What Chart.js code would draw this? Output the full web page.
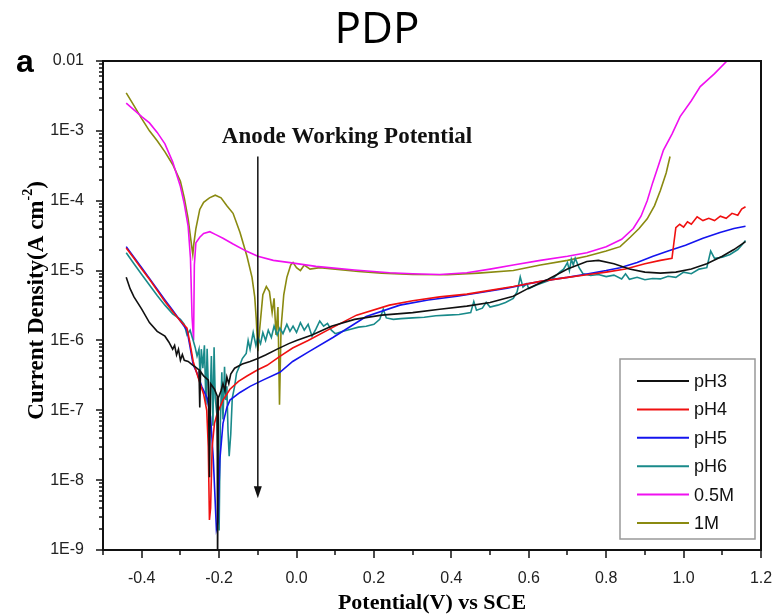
<!DOCTYPE html>
<html>
<head>
<meta charset="utf-8">
<title>PDP</title>
<script src="https://cdn.jsdelivr.net/npm/chart.js@4.4.1/dist/chart.umd.min.js"></script>
<style>
  body { margin: 0; background: #fff; }
  #pdpChart { display: block; }
</style>
</head>
<body>
<canvas id="pdpChart" width="775" height="615"></canvas>
<script>
// Series names & line colours (same order as the legend)
const seriesNames = ['pH3', 'pH4', 'pH5', 'pH6', '0.5M', '1M'];
const seriesColors = ['#111111', '#f01010', '#1414ee', '#198a8a', '#f010f0', '#8a8a10'];

// Tick labels
const xTickValues = [-0.4, -0.2, 0.0, 0.2, 0.4, 0.6, 0.8, 1.0, 1.2];
const yDecades = [-9, -8, -7, -6, -5, -4, -3, -2];
const yTickLabels = ['1E-9', '1E-8', '1E-7', '1E-6', '1E-5', '1E-4', '1E-3', '0.01'];

// Potential (V vs SCE) & current density (A cm-2)
const ph3X = [-0.44, -0.43, -0.42, -0.40, -0.38, -0.36, -0.34, -0.33, -0.32, -0.315, -0.31, -0.305, -0.30, -0.295, -0.29, -0.28, -0.27, -0.26, -0.252, -0.25, -0.248, -0.24, -0.228, -0.225, -0.222, -0.212, -0.205, -0.204, -0.202, -0.195, -0.19, -0.185, -0.18, -0.175, -0.17, -0.16, -0.14, -0.12, -0.10, -0.08, -0.05, -0.02, 0.0, 0.04, 0.09, 0.15, 0.22, 0.30, 0.37, 0.44, 0.50, 0.56, 0.60, 0.65, 0.70, 0.75, 0.78, 0.82, 0.86, 0.90, 0.94, 0.98, 1.02, 1.06, 1.10, 1.13, 1.16];
const ph3Y = [8e-6, 5.5e-6, 4.2e-6, 2.8e-6, 1.8e-6, 1.35e-6, 1.15e-6, 9.5e-7, 7.5e-7, 8.5e-7, 6.2e-7, 7.5e-7, 5.2e-7, 6.3e-7, 5.2e-7, 5.0e-7, 4.5e-7, 4.1e-7, 3.8e-7, 1.1e-7, 3.6e-7, 3.1e-7, 2.7e-7, 1.1e-8, 2.4e-7, 2.0e-7, 1.6e-7, 5e-10, 1.5e-7, 1.9e-7, 2.4e-7, 1.9e-7, 3.0e-7, 2.4e-7, 3.3e-7, 4.0e-7, 4.6e-7, 5.0e-7, 5.5e-7, 6.2e-7, 7.5e-7, 9.0e-7, 1.0e-6, 1.2e-6, 1.6e-6, 2.0e-6, 2.3e-6, 2.5e-6, 2.8e-6, 3.1e-6, 3.5e-6, 4.3e-6, 5.6e-6, 7.5e-6, 1.05e-5, 1.35e-5, 1.4e-5, 1.25e-5, 1.05e-5, 9.5e-6, 9.2e-6, 9.5e-6, 1.05e-5, 1.25e-5, 1.6e-5, 2.0e-5, 2.6e-5];

const ph4X = [-0.44, -0.42, -0.40, -0.38, -0.36, -0.34, -0.32, -0.30, -0.283, -0.275, -0.267, -0.257, -0.249, -0.24, -0.232, -0.228, -0.225, -0.222, -0.218, -0.212, -0.205, -0.198, -0.19, -0.172, -0.15, -0.128, -0.10, -0.076, -0.043, -0.01, 0.03, 0.09, 0.155, 0.24, 0.30, 0.37, 0.44, 0.50, 0.56, 0.63, 0.70, 0.75, 0.80, 0.85, 0.90, 0.94, 0.97, 0.975, 0.98, 0.99, 1.0, 1.01, 1.02, 1.035, 1.05, 1.065, 1.08, 1.095, 1.11, 1.125, 1.14, 1.15, 1.16];
const ph4Y = [2.1e-5, 1.5e-5, 1.05e-5, 7.5e-6, 5.2e-6, 3.6e-6, 2.6e-6, 1.9e-6, 1.5e-6, 9e-7, 5e-7, 3.3e-7, 2.4e-7, 1.7e-7, 1.0e-7, 3e-8, 2.7e-9, 4e-9, 3e-8, 6.5e-8, 9e-8, 1.1e-7, 1.4e-7, 2.0e-7, 2.6e-7, 3.1e-7, 3.8e-7, 4.4e-7, 5.9e-7, 7.8e-7, 1.0e-6, 1.5e-6, 2.3e-6, 3.2e-6, 3.7e-6, 4.2e-6, 4.6e-6, 5.2e-6, 5.9e-6, 7.0e-6, 8.0e-6, 8.7e-6, 9.5e-6, 1.05e-5, 1.25e-5, 1.4e-5, 1.5e-5, 2.5e-5, 4.1e-5, 4.6e-5, 4.2e-5, 5.0e-5, 4.6e-5, 5.9e-5, 5.2e-5, 5.6e-5, 5.2e-5, 6.0e-5, 5.6e-5, 6.6e-5, 6.2e-5, 7.6e-5, 8.2e-5];

const ph5X = [-0.44, -0.42, -0.40, -0.38, -0.36, -0.34, -0.32, -0.30, -0.283, -0.275, -0.267, -0.257, -0.245, -0.231, -0.222, -0.215, -0.207, -0.203, -0.198, -0.19, -0.18, -0.172, -0.146, -0.12, -0.087, -0.043, -0.01, 0.03, 0.094, 0.18, 0.267, 0.34, 0.415, 0.48, 0.544, 0.60, 0.65, 0.70, 0.75, 0.80, 0.836, 0.88, 0.921, 0.96, 1.005, 1.05, 1.094, 1.13, 1.16];
const ph5Y = [2.2e-5, 1.55e-5, 1.1e-5, 7.7e-6, 5.4e-6, 3.8e-6, 2.7e-6, 1.9e-6, 1.4e-6, 8e-7, 4.5e-7, 3.4e-7, 2.2e-7, 1.5e-7, 8e-8, 2e-8, 2e-9, 2.5e-9, 2e-8, 6.5e-8, 1.1e-7, 1.4e-7, 1.8e-7, 2.2e-7, 2.7e-7, 3.5e-7, 5e-7, 6.8e-7, 1.1e-6, 2.2e-6, 3.2e-6, 3.8e-6, 4.3e-6, 4.9e-6, 5.6e-6, 6.5e-6, 7.3e-6, 8.0e-6, 8.9e-6, 1.0e-5, 1.1e-5, 1.3e-5, 1.6e-5, 1.9e-5, 2.3e-5, 2.9e-5, 3.5e-5, 4.0e-5, 4.3e-5];

const ph6X = [-0.44, -0.42, -0.40, -0.38, -0.36, -0.34, -0.32, -0.30, -0.29, -0.283, -0.275, -0.267, -0.262, -0.257, -0.252, -0.249, -0.246, -0.242, -0.238, -0.234, -0.231, -0.227, -0.224, -0.22, -0.216, -0.213, -0.21, -0.206, -0.203, -0.20, -0.197, -0.193, -0.19, -0.186, -0.183, -0.18, -0.177, -0.174, -0.17, -0.166, -0.16, -0.155, -0.148, -0.14, -0.13, -0.125, -0.12, -0.112, -0.105, -0.10, -0.093, -0.087, -0.08, -0.073, -0.065, -0.058, -0.05, -0.043, -0.035, -0.025, -0.017, -0.009, 0.0, 0.01, 0.02, 0.03, 0.04, 0.05, 0.06, 0.07, 0.08, 0.09, 0.10, 0.12, 0.14, 0.16, 0.18, 0.20, 0.215, 0.224, 0.232, 0.25, 0.27, 0.30, 0.33, 0.36, 0.39, 0.42, 0.45, 0.458, 0.465, 0.48, 0.49, 0.50, 0.52, 0.54, 0.56, 0.57, 0.578, 0.585, 0.595, 0.60, 0.62, 0.64, 0.66, 0.68, 0.69, 0.70, 0.705, 0.71, 0.715, 0.72, 0.73, 0.74, 0.76, 0.78, 0.80, 0.82, 0.84, 0.85, 0.86, 0.88, 0.90, 0.92, 0.94, 0.96, 0.98, 1.0, 1.02, 1.04, 1.06, 1.07, 1.08, 1.10, 1.12, 1.14, 1.15, 1.16];
const ph6Y = [1.8e-5, 1.25e-5, 8.8e-6, 6.2e-6, 4.4e-6, 3.2e-6, 2.4e-6, 2.0e-6, 1.7e-6, 1.2e-6, 1.4e-6, 1.0e-6, 8e-7, 6e-7, 7.5e-7, 2.8e-7, 7.5e-7, 4e-7, 8.5e-7, 1.2e-7, 7.6e-7, 1.6e-7, 1.0e-7, 6e-7, 6e-8, 8e-7, 1.5e-7, 9e-8, 2e-8, 1.9e-9, 6e-8, 3.5e-7, 7.4e-8, 4.2e-7, 1.4e-7, 2.2e-7, 5e-8, 2.2e-8, 4.5e-8, 1.5e-7, 2.2e-7, 3.4e-7, 4.2e-7, 5.5e-7, 6.5e-7, 1.0e-6, 7.5e-7, 1.3e-6, 8.5e-7, 1.1e-6, 9e-7, 1.3e-6, 1.0e-6, 1.4e-6, 1.1e-6, 1.6e-6, 1.2e-6, 1.5e-6, 1.25e-6, 1.7e-6, 1.35e-6, 1.6e-6, 1.3e-6, 1.8e-6, 1.4e-6, 1.7e-6, 1.15e-6, 1.45e-6, 1.9e-6, 1.6e-6, 1.75e-6, 1.4e-6, 1.25e-6, 1.35e-6, 1.45e-6, 1.55e-6, 1.6e-6, 1.7e-6, 2.0e-6, 2.8e-6, 2.1e-6, 2.0e-6, 2.05e-6, 2.1e-6, 2.15e-6, 2.25e-6, 2.3e-6, 2.35e-6, 2.5e-6, 3.6e-6, 2.7e-6, 2.9e-6, 3.5e-6, 3.0e-6, 3.2e-6, 3.5e-6, 4.0e-6, 5.0e-6, 8.1e-6, 5.8e-6, 6.5e-6, 5.5e-6, 6.2e-6, 6.8e-6, 7.5e-6, 9.5e-6, 1.05e-5, 1.3e-5, 1.0e-5, 1.45e-5, 1.2e-5, 1.5e-5, 1.1e-5, 9e-6, 8.5e-6, 8.8e-6, 8.2e-6, 8.6e-6, 7.6e-6, 9.0e-6, 7.5e-6, 8.0e-6, 7.4e-6, 7.7e-6, 7.6e-6, 8.3e-6, 8.0e-6, 9.5e-6, 9.0e-6, 1.05e-5, 1.1e-5, 1.9e-5, 1.5e-5, 1.55e-5, 1.7e-5, 2.0e-5, 2.3e-5, 2.7e-5];

const m05X = [-0.44, -0.42, -0.40, -0.38, -0.36, -0.34, -0.32, -0.30, -0.29, -0.28, -0.274, -0.27, -0.266, -0.264, -0.26, -0.25, -0.24, -0.224, -0.21, -0.19, -0.164, -0.13, -0.10, -0.06, -0.017, 0.05, 0.15, 0.24, 0.30, 0.37, 0.44, 0.50, 0.56, 0.63, 0.70, 0.75, 0.80, 0.84, 0.87, 0.89, 0.906, 0.92, 0.935, 0.948, 0.97, 0.991, 1.02, 1.043, 1.08, 1.112];
const m05Y = [2.5e-3, 2.0e-3, 1.6e-3, 1.3e-3, 9.5e-4, 6.5e-4, 3.6e-4, 1.6e-4, 9e-5, 4.3e-5, 1.5e-5, 2.2e-6, 1.0e-6, 1.2e-5, 2.5e-5, 3.0e-5, 3.4e-5, 3.6e-5, 3.3e-5, 2.9e-5, 2.4e-5, 1.9e-5, 1.6e-5, 1.4e-5, 1.3e-5, 1.15e-5, 1.02e-5, 9.3e-6, 9.0e-6, 8.8e-6, 9.3e-6, 1.05e-5, 1.2e-5, 1.4e-5, 1.6e-5, 1.8e-5, 2.2e-5, 2.8e-5, 4.0e-5, 6.0e-5, 1.0e-4, 1.8e-4, 3.2e-4, 5.3e-4, 9.0e-4, 1.6e-3, 2.7e-3, 4.3e-3, 6.6e-3, 1.0e-2];

const m1X = [-0.44, -0.42, -0.40, -0.38, -0.36, -0.34, -0.32, -0.30, -0.29, -0.28, -0.272, -0.268, -0.265, -0.26, -0.25, -0.24, -0.225, -0.21, -0.195, -0.18, -0.164, -0.146, -0.128, -0.115, -0.108, -0.104, -0.10, -0.095, -0.087, -0.078, -0.07, -0.063, -0.058, -0.053, -0.048, -0.044, -0.04, -0.033, -0.025, -0.015, -0.009, 0.0, 0.01, 0.02, 0.035, 0.06, 0.10, 0.16, 0.22, 0.30, 0.39, 0.47, 0.56, 0.63, 0.70, 0.75, 0.80, 0.836, 0.862, 0.885, 0.906, 0.925, 0.94, 0.955, 0.965];
const m1Y = [3.5e-3, 2.3e-3, 1.5e-3, 1.0e-3, 7.2e-4, 5.0e-4, 3.3e-4, 1.9e-4, 1.1e-4, 5.5e-5, 2.5e-5, 1.7e-5, 2.5e-5, 4.0e-5, 7.5e-5, 9.5e-5, 1.1e-4, 1.2e-4, 1.1e-4, 8.5e-5, 6.6e-5, 3.5e-5, 1.6e-5, 8e-6, 4.2e-6, 2e-6, 7e-7, 1.5e-6, 4.5e-6, 5.9e-6, 5e-6, 2.5e-6, 4.0e-6, 1.2e-6, 3.0e-6, 1.2e-7, 1.5e-6, 4.5e-6, 8e-6, 1.2e-5, 1.3e-5, 1.1e-5, 1.0e-5, 1.2e-5, 1.05e-5, 1.1e-5, 1.05e-5, 9.7e-6, 9.2e-6, 8.8e-6, 8.7e-6, 9.2e-6, 1.0e-5, 1.2e-5, 1.4e-5, 1.6e-5, 1.9e-5, 2.2e-5, 3.0e-5, 4.0e-5, 5.5e-5, 8.5e-5, 1.4e-4, 2.5e-4, 4.3e-4];

// Anode working potential marker (V) and arrow span (A cm-2)
const anodePotential = -0.1;
const arrowTop = 4.3e-4;
const arrowBottom = 5.5e-9;

const seriesX = [ph3X, ph4X, ph5X, ph6X, m05X, m1X];
const seriesY = [ph3Y, ph4Y, ph5Y, ph6Y, m05Y, m1Y];

const serif = '"Liberation Serif", "Times New Roman", serif';
const sans = '"Liberation Sans", Arial, sans-serif';

// Build datasets from the arrays
const datasets = seriesNames.map((name, i) => ({
    label: name,
    data: seriesX[i].map((x, j) => ({ x: x, y: seriesY[i][j] })),
    borderColor: seriesColors[i],
    backgroundColor: seriesColors[i],
    borderWidth: 1.6,
    pointRadius: 0,
    showLine: true,
    tension: 0
}));

// Draws frame, tick marks, annotation, legend & titles
const decorations = {
    id: 'decorations',
    afterDraw(chart) {
        const c = chart.ctx;
        const area = chart.chartArea;
        const xs = chart.scales.x;
        const ys = chart.scales.y;
        c.save();

        // frame
        c.strokeStyle = '#111';
        c.lineWidth = 2;
        c.strokeRect(area.left, area.top, area.right - area.left, area.bottom - area.top);

        // tick marks (longer where there is a label)
        c.lineWidth = 1.5;
        xs.ticks.forEach(t => {
            const px = Math.round(xs.getPixelForValue(t.value));
            const len = t.label ? 8 : 5;
            c.beginPath();
            c.moveTo(px, area.bottom);
            c.lineTo(px, area.bottom + len);
            c.stroke();
        });
        ys.ticks.forEach(t => {
            const py = Math.round(ys.getPixelForValue(t.value));
            const len = t.label ? 7 : 4;
            c.beginPath();
            c.moveTo(area.left, py);
            c.lineTo(area.left - len, py);
            c.stroke();
        });

        // anode working potential arrow
        const ax = xs.getPixelForValue(anodePotential);
        const aTop = ys.getPixelForValue(arrowTop);
        const aBot = ys.getPixelForValue(arrowBottom);
        c.lineWidth = 1.5;
        c.beginPath();
        c.moveTo(ax, aTop);
        c.lineTo(ax, aBot - 10);
        c.stroke();
        c.fillStyle = '#111';
        c.beginPath();
        c.moveTo(ax - 4, aBot - 12);
        c.lineTo(ax + 4, aBot - 12);
        c.lineTo(ax, aBot);
        c.closePath();
        c.fill();

        c.font = 'bold 23px ' + serif;
        c.textAlign = 'center';
        c.textBaseline = 'middle';
        c.fillText('Anode Working Potential', 347, 137);

        // legend
        const lx = 620, ly = 359, lw = 135, lh = 180;
        c.strokeStyle = '#999';
        c.lineWidth = 1.5;
        c.strokeRect(lx, ly, lw, lh);
        c.font = '18px ' + sans;
        c.textAlign = 'left';
        chart.data.datasets.forEach((ds, i) => {
            const y = 381 + i * 28.4;
            c.strokeStyle = ds.borderColor;
            c.lineWidth = 2;
            c.beginPath();
            c.moveTo(637, y);
            c.lineTo(689, y);
            c.stroke();
            c.fillStyle = '#111';
            c.fillText(ds.label, 694, y + 1);
        });

        // chart title & panel letter
        c.fillStyle = '#000';
        c.textAlign = 'center';
        c.font = '44px "Open Sans", "Noto Sans", sans-serif';
        c.fillText('PDP', 377, 30);
        c.textAlign = 'left';
        c.textBaseline = 'alphabetic';
        c.font = 'bold 32px ' + sans;
        c.fillText('a', 16, 72);

        // x axis title
        c.textAlign = 'center';
        c.textBaseline = 'middle';
        c.font = 'bold 22px ' + serif;
        c.fillText('Potential(V) vs SCE', (area.left + area.right) / 2, 603);

        // y axis title with superscript
        c.translate(37, (area.top + area.bottom) / 2 - 5);
        c.rotate(-Math.PI / 2);
        const mainFont = 'bold 23px ' + serif;
        const supFont = 'bold 14px ' + serif;
        c.font = mainFont;
        const p1 = 'Current Density(A cm';
        const w1 = c.measureText(p1).width;
        c.font = supFont;
        const w2 = c.measureText('-2').width;
        c.font = mainFont;
        const w3 = c.measureText(')').width;
        let tx = -(w1 + w2 + w3) / 2;
        c.textAlign = 'left';
        c.fillText(p1, tx, 0);
        tx += w1;
        c.font = supFont;
        c.fillText('-2', tx, -9);
        tx += w2;
        c.font = mainFont;
        c.fillText(')', tx, 0);

        c.restore();
    }
};

new Chart(document.getElementById('pdpChart').getContext('2d'), {
    type: 'scatter',
    data: { datasets: datasets },
    options: {
        responsive: false,
        animation: false,
        events: [],
        layout: { padding: { left: 0, top: 61, right: 14, bottom: 0 } },
        plugins: {
            legend: { display: false },
            tooltip: { enabled: false }
        },
        scales: {
            x: {
                type: 'linear',
                min: -0.5,
                max: 1.2,
                afterBuildTicks: scale => {
                    const ticks = [];
                    for (let i = 0; i <= 17; i++) ticks.push({ value: Math.round((-0.5 + i * 0.1) * 10) / 10 });
                    scale.ticks = ticks;
                },
                afterFit: scale => {
                    scale.height = 65;
                    scale.paddingLeft = 0;
                    scale.paddingRight = 0;
                },
                grid: { display: false },
                border: { display: false },
                ticks: {
                    autoSkip: false,
                    maxRotation: 0,
                    padding: 11,
                    color: '#222',
                    font: { family: sans, size: 16 },
                    callback: value => {
                        const hit = xTickValues.find(v => Math.abs(v - value) < 1e-6);
                        return hit === undefined ? '' : hit.toFixed(1);
                    }
                }
            },
            y: {
                type: 'logarithmic',
                min: 1e-9,
                max: 1e-2,
                afterBuildTicks: scale => {
                    const ticks = [];
                    yDecades.forEach(e => {
                        const top = e === -2 ? 1 : 9;
                        for (let m = 1; m <= top; m++) ticks.push({ value: m * Math.pow(10, e) });
                    });
                    scale.ticks = ticks;
                },
                afterFit: scale => {
                    scale.width = 103;
                    scale.paddingTop = 0;
                    scale.paddingBottom = 0;
                },
                grid: { display: false },
                border: { display: false },
                ticks: {
                    autoSkip: false,
                    padding: 11,
                    color: '#222',
                    font: { family: sans, size: 16 },
                    callback: value => {
                        const e = Math.log10(value);
                        const r = Math.round(e);
                        if (Math.abs(e - r) > 1e-6) return '';
                        const k = yDecades.indexOf(r);
                        return k < 0 ? '' : yTickLabels[k];
                    }
                }
            }
        }
    },
    plugins: [decorations]
});
</script>
</body>
</html>
